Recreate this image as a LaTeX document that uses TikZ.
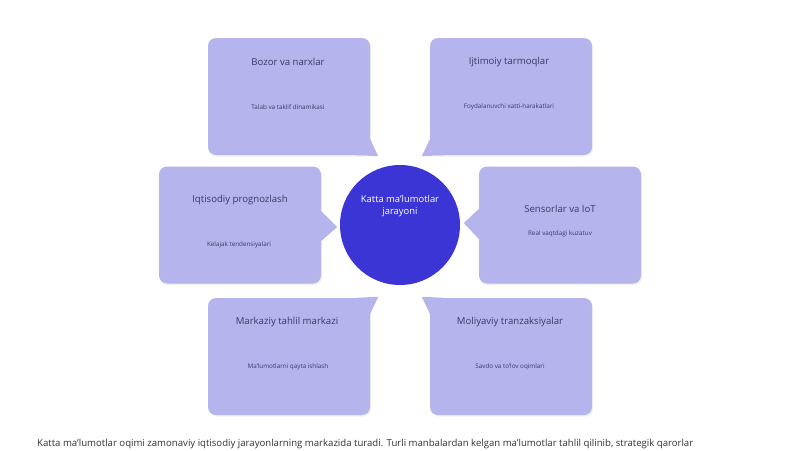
\documentclass[tikz,border=0pt]{standalone}
\usepackage{fontspec}
\setmainfont{Open Sans}
\usetikzlibrary{calc}
\begin{document}
\begin{tikzpicture}[x=1pt,y=-1pt,
  box/.style={fill=boxc, rounded corners=8pt, minimum width=162pt, minimum height=117pt, inner sep=0pt},
  shade/.style={fill=black, opacity=0.06, rounded corners=8pt, minimum width=162pt, minimum height=117pt, inner sep=0pt},
  tail/.style={fill=boxc},
  ttl/.style={text=txtc, font=\fontsize{9.6}{11}\selectfont, inner sep=0pt},
  sub/.style={text=txtc, font=\fontsize{6.3}{7.5}\selectfont, inner sep=0pt},
  ctr/.style={circle, fill=hubc, minimum size=120pt, inner sep=0pt}]
\definecolor{boxc}{HTML}{B5B4EC}
\definecolor{hubc}{HTML}{3C35D6}
\definecolor{txtc}{HTML}{3A3A66}
\definecolor{bodyc}{HTML}{333333}
\useasboundingbox (0,0) rectangle (800,450);
\clip (0,0) rectangle (800,450);
\fill[white] (0,0) rectangle (800,450);
% shadows
\foreach \p in {(290,98),(512,98),(241,226.5),(561,226.5),(290,358),(512,358)}
  \node[shade] at \p {};
% boxes
\node[box] (tl) at (289,96.5) {};
\node[box] (tr) at (511,96.5) {};
\node[box] (l) at (240,225) {};
\node[box] (r) at (560,225) {};
\node[box] (bl) at (289,356.5) {};
\node[box] (br) at (511,356.5) {};
% tails
\fill[tail] ($(tl.south east)+(-14,0)$) -- ($(tl.south east)+(8,1)$) -- ($(tl.south east)+(0,-16)$) -- cycle;
\fill[tail] ($(tr.south west)+(14,0)$) -- ($(tr.south west)+(-8,1)$) -- ($(tr.south west)+(0,-16)$) -- cycle;
\fill[tail] ($(l.east)+(0,-14)$) -- ($(l.east)+(16,2)$) -- ($(l.east)+(0,16)$) -- cycle;
\fill[tail] ($(r.west)+(0,-16)$) -- ($(r.west)+(-15,-2)$) -- ($(r.west)+(0,14)$) -- cycle;
\fill[tail] ($(bl.north east)+(-14,0)$) -- ($(bl.north east)+(8,-1)$) -- ($(bl.north east)+(0,16)$) -- cycle;
\fill[tail] ($(br.north west)+(14,0)$) -- ($(br.north west)+(-8,-1)$) -- ($(br.north west)+(0,16)$) -- cycle;
% hub
\node[ctr] (hub) at (400,225) {};
\node[text=white, font=\fontsize{9.4}{12.5}\selectfont, align=center, inner sep=0pt] (hubt) at (400,206) {Katta ma'lumotlar\\jarayoni};
% texts
\node[ttl] (tlt) at (288,62) {Bozor va narxlar};
\node[sub] (tls) at (288,107) {Talab va taklif dinamikasi};
\node[ttl] (trt) at (509,62) {Ijtimoiy tarmoqlar};
\node[sub] (trs) at (509,107) {Foydalanuvchi xatti-harakatlari};
\node[ttl] (lt) at (240,200) {Iqtisodiy prognozlash};
\node[sub] (ls) at (239,245) {Kelajak tendensiyalari};
\node[ttl] (rt) at (560,209) {Sensorlar va IoT};
\node[sub] (rs) at (560,234) {Real vaqtdagi kuzatuv};
\node[ttl] (blt) at (287,322) {Markaziy tahlil markazi};
\node[sub] (bls) at (288,367) {Ma'lumotlarni qayta ishlash};
\node[ttl] (brt) at (510,322) {Moliyaviy tranzaksiyalar};
\node[sub] (brs) at (510,367) {Savdo va to'lov oqimlari};
% body text
\node[anchor=base west, text=bodyc, font=\fontsize{9.6}{12}\selectfont, inner sep=0pt] (body) at (37,446.5) {Katta ma'lumotlar oqimi zamonaviy iqtisodiy jarayonlarning markazida turadi. Turli manbalardan kelgan ma'lumotlar tahlil qilinib, strategik qarorlar};
\end{tikzpicture}
\end{document}
